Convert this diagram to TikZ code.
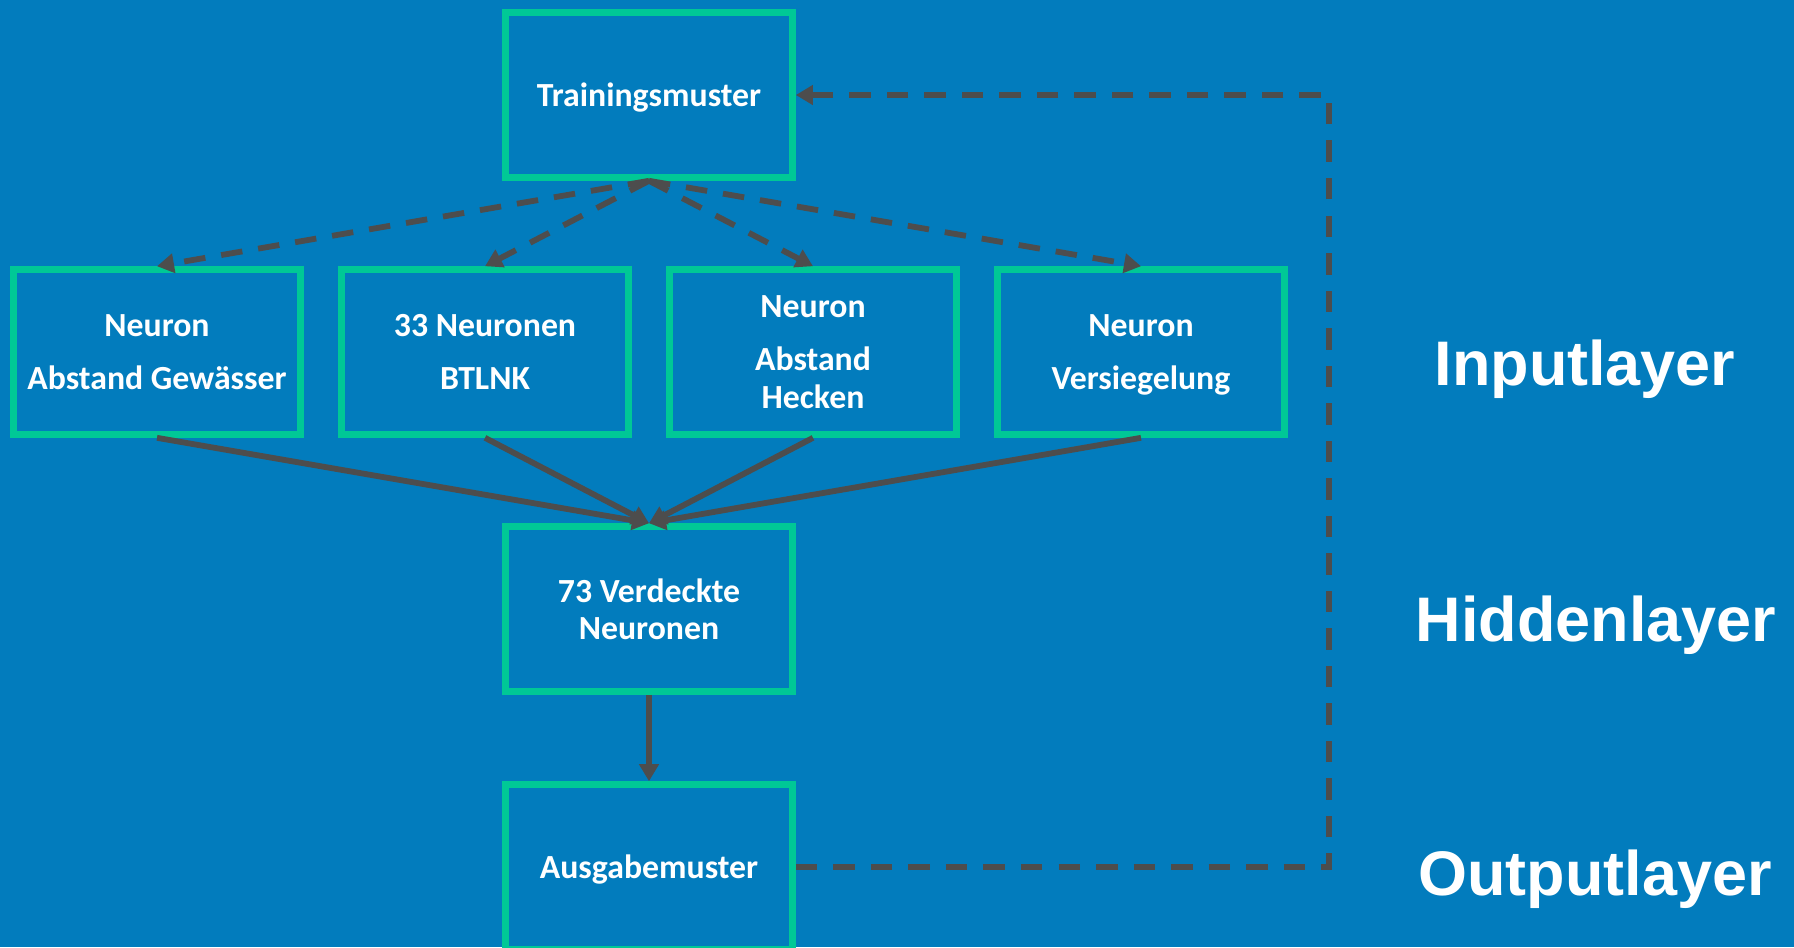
\documentclass[tikz,border=0pt]{standalone}
\usepackage{fontspec}
\setmainfont{Carlito}
\newfontfamily\arialfont{Liberation Sans}
\usepackage{tikz}
\usetikzlibrary{arrows.meta,calc,positioning}
\definecolor{bgblue}{RGB}{2,124,189}
\definecolor{boxgreen}{RGB}{0,200,150}
\definecolor{arrowgray}{RGB}{77,77,77}
\tikzset{
    -{Triangle[length=0.17cm,width=0.19cm]},
    state/.style ={rectangle, draw=boxgreen, line width=0.065cm, minimum width=2.87cm, minimum height=1.65cm,
        inner sep=0pt, text depth=0pt, align=center, text=white, font=\bfseries\fontsize{9.6}{10.7}\selectfont},
    link/.style={draw=arrowgray, line width=0.058cm},
    feedback/.style={link, dash pattern=on 0.215cm off 0.16cm},
    layer/.style = {text=white, anchor=base, font=\arialfont\bfseries\fontsize{17.9}{20}\selectfont}
}

\begin{document}
\begin{tikzpicture}[x=0.01cm,y=-0.01cm]
 \path[use as bounding box, fill=bgblue] (0,0) rectangle (1794,947);

 \node[state] (train) at (649,95) {Trainingsmuster};
    \node[state] (gew) at (157,352) {Neuron\\[4.3pt]Abstand Gewässer};
    \node[state] (btlnk) at (485,352) {33 Neuronen\\[4.3pt]BTLNK};
    \node[state] (heck) at (813,352) {Neuron\\[4.3pt]Abstand\\Hecken};
    \node[state] (vers) at (1141,352) {Neuron\\[4.3pt]Versiegelung};
    \node[state] (hid) at (649,609) {73 Verdeckte\\Neuronen};
    \node[state] (out) at (649,867) {Ausgabemuster};
    \coordinate (back) at (1329,867);

    \node[layer] (inl) at (1585,385) {Inputlayer};
    \node[layer] (hidl) at (1596,641) {Hiddenlayer};
    \node[layer] (outl) at (1595,895) {Outputlayer};

    \path (train.south) edge[feedback] (gew.north);
    \path (train.south) edge[feedback] (btlnk.north);
     \path (train.south) edge[feedback] (heck.north);
     \path (train.south) edge[feedback] (vers.north);
    \path (gew.south) edge[link] (hid.north);
    \path (btlnk.south) edge[link] (hid.north);
    \path (heck.south) edge[link] (hid.north);
    \path (vers.south) edge[link] (hid.north);
    \path (hid) edge[link] (out);
        \draw[feedback] (out.east) -- (back) |- (train.east);
\end{tikzpicture}
\end{document}
